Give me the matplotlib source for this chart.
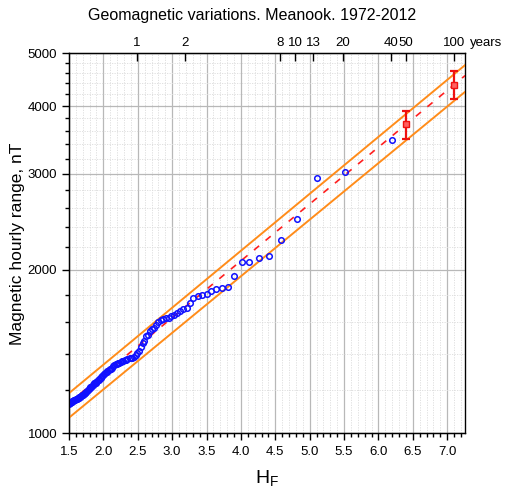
import numpy as np
import matplotlib
matplotlib.use('Agg')
import matplotlib.pyplot as plt
from matplotlib.ticker import FixedLocator, NullFormatter, MultipleLocator, FormatStrFormatter

plt.rcParams['font.family'] = ['Liberation Sans', 'DejaVu Sans']

# observed hourly ranges (nT) at their plotting positions H_F
h_obs = [6.20, 5.51, 5.11, 4.82, 4.59, 4.41, 4.26, 4.12, 4.01, 3.90,
         3.81, 3.72, 3.64, 3.57, 3.50, 3.43, 3.37, 3.31, 3.26, 3.21,
         3.16, 3.11, 3.07, 3.03, 2.99, 2.95, 2.91, 2.87, 2.84, 2.80,
         2.77, 2.74, 2.71, 2.68, 2.65, 2.62, 2.59, 2.57, 2.54, 2.52,
         2.49, 2.47, 2.44, 2.42, 2.40, 2.38, 2.35, 2.33, 2.31, 2.29,
         2.27, 2.25, 2.23, 2.22, 2.20, 2.18, 2.16, 2.14, 2.13, 2.11,
         2.09, 2.08, 2.06, 2.05, 2.03, 2.01, 2.00, 1.98, 1.97, 1.96,
         1.94, 1.93, 1.91, 1.90, 1.89, 1.87, 1.86, 1.85, 1.83, 1.82,
         1.81, 1.80, 1.79, 1.77, 1.76, 1.75, 1.74, 1.73, 1.72, 1.70,
         1.69, 1.68, 1.67, 1.66, 1.65, 1.64, 1.63, 1.62, 1.61, 1.60,
         1.59, 1.58, 1.57, 1.56, 1.55, 1.54, 1.53, 1.52, 1.51, 1.50]
v_obs = [3460, 3031, 2954, 2480, 2271, 2124, 2105, 2066, 2071, 1944,
         1863, 1851, 1846, 1825, 1806, 1800, 1793, 1775, 1740, 1703,
         1692, 1680, 1662, 1650, 1641, 1632, 1628, 1621, 1616, 1600,
         1580, 1565, 1554, 1546, 1518, 1513, 1480, 1465, 1441, 1420,
         1405, 1395, 1380, 1377, 1376, 1375, 1370, 1367, 1365, 1361,
         1357, 1353, 1350, 1347, 1343, 1340, 1335, 1328, 1322, 1316,
         1313, 1310, 1302, 1297, 1293, 1286, 1282, 1276, 1272, 1266,
         1258, 1252, 1249, 1245, 1240, 1236, 1232, 1228, 1222, 1218,
         1215, 1211, 1206, 1200, 1195, 1191, 1188, 1185, 1182, 1178,
         1175, 1172, 1170, 1169, 1166, 1164, 1161, 1159, 1157, 1155,
         1153, 1152, 1150, 1148, 1146, 1143, 1141, 1139, 1137, 1135]

# fitted line and confidence band
fit_h = [1.5, 7.26]
fit_v = [1138, 4550]
upper_v = [1186, 4757]
lower_v = [1069, 4248]

# estimated 50 and 100 year values with error bars
est_h = [6.40, 7.10]
est_v = [3700, 4380]
est_lo = [3479, 4118]
est_hi = [3921, 4638]

# return periods for the top axis
years = [1, 2, 8, 10, 13, 20, 40, 50, 100]
h_year0 = 2.49

fig = plt.figure(figsize=(5.05, 4.93), dpi=100)
ax = fig.add_axes([0.1366, 0.1207, 0.7844, 0.7712])

ax.set_yscale('log')
ax.set_xlim(1.5, 7.26)
ax.set_ylim(1000, 5000)

ax.plot(fit_h, upper_v, color='#ff8c1a', lw=1.4, zorder=3)
ax.plot(fit_h, lower_v, color='#ff8c1a', lw=1.4, zorder=3)
ax.plot(fit_h, fit_v, color='#ff2020', lw=1.2, ls=(0, (4, 5)), zorder=3)
ax.plot(h_obs, v_obs, 'o', ms=4, mfc='none', mec='#1010ff', mew=1.1, zorder=4)

yerr = [np.array(est_v) - np.array(est_lo), np.array(est_hi) - np.array(est_v)]
ax.errorbar(est_h, est_v, yerr=yerr, fmt='s', ms=5, color='#ee1111',
            mfc='#ff6060', mec='#ee1111', ecolor='#ee1111', elinewidth=1.6,
            capsize=3, capthick=1.6, zorder=5)

ax.yaxis.set_major_locator(FixedLocator([1000, 2000, 3000, 4000, 5000]))
ax.yaxis.set_major_formatter(FormatStrFormatter('%d'))
minors = [v for v in range(1200, 5000, 200) if v not in (2000, 3000, 4000)]
ax.yaxis.set_minor_locator(FixedLocator(minors))
ax.yaxis.set_minor_formatter(NullFormatter())

ax.xaxis.set_major_locator(MultipleLocator(0.5))
ax.xaxis.set_minor_locator(MultipleLocator(0.1))
ax.xaxis.set_major_formatter(FormatStrFormatter('%.1f'))

ax.grid(which='major', color='#b8b8b8', lw=0.9)
ax.grid(which='minor', color='#dcdcdc', lw=0.6, ls=(0, (1.5, 1.5)))
ax.set_axisbelow(True)

ax.tick_params(axis='both', which='major', direction='out', length=5,
               width=1, labelsize=9.5)
ax.tick_params(axis='both', which='minor', direction='out', length=3, width=1)
ax.tick_params(axis='x', which='major', pad=4)
for s in ax.spines.values():
    s.set_linewidth(1)
ax.spines['right'].set_color('#555555')

ax.set_ylabel('Magnetic hourly range, nT', fontsize=12.5, labelpad=2)
ax.set_xlabel('H$_\\mathregular{F}$', fontsize=14, labelpad=8)

ax2 = ax.twiny()
ax2.set_xlim(ax.get_xlim())
ax2.set_xticks([h_year0 + np.log(t) for t in years])
ax2.set_xticklabels([str(t) for t in years])
ax2.tick_params(axis='x', direction='in', length=6, width=1, labelsize=9.5, pad=3)
ax2.text(1.012, 1.012, 'years', transform=ax.transAxes, fontsize=9.5,
         ha='left', va='bottom')

fig.text(0.5, 0.968, 'Geomagnetic variations. Meanook. 1972-2012',
         ha='center', va='center', fontsize=11.5)

fig.savefig('out.png', dpi=100)
